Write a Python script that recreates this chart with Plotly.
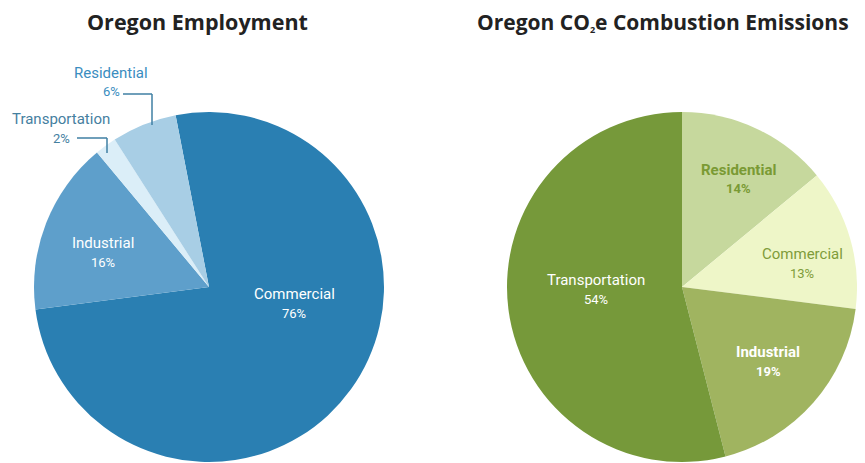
import plotly.graph_objects as go

W, H = 865, 463
OFF = 8  # page body margin offset

emp_labels = ["Commercial", "Industrial", "Transportation", "Residential"]
emp_values = [76, 16, 2, 6]
emp_colors = ["#2a7fb2", "#5e9fcb", "#dbeef8", "#a8cee5"]

co2_labels = ["Residential", "Commercial", "Industrial", "Transportation"]
co2_values = [14, 13, 19, 54]
co2_colors = ["#c6d89d", "#eef6c8", "#a0b460", "#76993a"]

def px(x):
    return (x - OFF) / W

def py(y):
    return 1 - (y - OFF) / H

fig = go.Figure()
fig.add_trace(go.Pie(
    labels=emp_labels, values=emp_values, sort=False, direction="clockwise",
    rotation=-11, marker=dict(colors=emp_colors, line=dict(width=0)),
    textinfo="none", hoverinfo="label+percent", showlegend=False,
    domain=dict(x=[px(34), px(384)], y=[py(462), py(112)]),
))
fig.add_trace(go.Pie(
    labels=co2_labels, values=co2_values, sort=False, direction="clockwise",
    rotation=0, marker=dict(colors=co2_colors, line=dict(width=0)),
    textinfo="none", hoverinfo="label+percent", showlegend=False,
    domain=dict(x=[px(507), px(857)], y=[py(462), py(112)]),
))

FONT = "Liberation Sans Narrow, Roboto, sans-serif"
ann = []

def label(x, y, name, pct, color, size=15):
    ann.append(dict(x=px(x), y=py(y), xref="paper", yref="paper",
                    text=name, showarrow=False,
                    font=dict(family=FONT, size=size, color=color),
                    xanchor="center", yanchor="middle"))
    ann.append(dict(x=px(x), y=py(y + 19), xref="paper", yref="paper",
                    text=pct, showarrow=False,
                    font=dict(family=FONT, size=size - 2, color=color),
                    xanchor="center", yanchor="middle"))

label(294, 294, "Commercial", "76%", "white")
label(103, 243, "Industrial", "16%", "white")
label(111, 73, "Residential", "6%", "#3a8dc0")
label(61, 119, "Transportation", "2%", "#45809f")

label(738, 170, "<b>Residential</b>", "<b>14%</b>", "#7a9a34")
label(802, 254, "Commercial", "13%", "#7f9c3a")
label(768, 352, "<b>Industrial</b>", "<b>19%</b>", "white")
label(596, 280, "Transportation", "54%", "white")

TFONT = "Open Sans"
ann.append(dict(x=px(197), y=py(22), xref="paper", yref="paper",
                text="<b>Oregon Employment</b>", showarrow=False,
                font=dict(family=TFONT, size=21.5, color="#222222"),
                xanchor="center", yanchor="middle"))
ann.append(dict(x=px(663), y=py(22), xref="paper", yref="paper",
                text="<b>Oregon CO<span style='font-size:13px'><sub>2</sub></span>e Combustion Emissions</b>",
                showarrow=False,
                font=dict(family=TFONT, size=21, color="#222222"),
                xanchor="center", yanchor="middle"))

line_col = "#3f7fa3"
def seg(x0, y0, x1, y1):
    return dict(type="line", xref="paper", yref="paper",
                x0=px(x0), y0=py(y0), x1=px(x1), y1=py(y1),
                line=dict(color=line_col, width=1.5))

shapes = [
    seg(123, 94, 152, 94), seg(152, 94, 152, 125),
    seg(77, 138, 107, 138), seg(107, 138, 107, 153),
]

fig.update_layout(
    width=W, height=H, margin=dict(l=0, r=0, t=0, b=0),
    paper_bgcolor="white", plot_bgcolor="white",
    annotations=ann, shapes=shapes,
)

fig.write_html("out.html")
